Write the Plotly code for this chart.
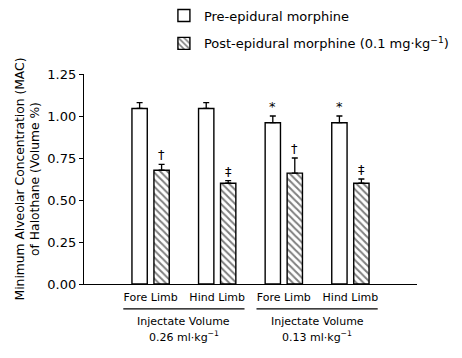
import plotly.graph_objects as go

categories = ["Fore Limb", "Hind Limb", "Fore Limb", "Hind Limb"]
pre_values = [1.045, 1.045, 0.96, 0.96]
pre_errors = [0.035, 0.035, 0.04, 0.04]
post_values = [0.677, 0.60, 0.66, 0.60]
post_errors = [0.035, 0.015, 0.09, 0.025]
pre_marks = ["", "", "*", "*"]
post_marks = ["†", "‡", "†", "‡"]
y_ticks = [0.0, 0.25, 0.5, 0.75, 1.0, 1.25]
group_title = ["Injectate Volume", "Injectate Volume"]
group_doses = ["0.26 ml·kg<sup>−1</sup>", "0.13 ml·kg<sup>−1</sup>"]
group_centers = [0.5, 2.5]

FONT = "DejaVu Sans"
pos = list(range(len(categories)))
off = 0.165
bw = 0.23

fig = go.Figure()
fig.add_trace(go.Bar(
    x=[p - off for p in pos], y=pre_values, width=bw,
    name="Pre-epidural morphine", legendgroup="a",
    marker=dict(color="white", line=dict(color="black", width=1.4)),
    error_y=dict(type="data", array=pre_errors, arrayminus=[0]*4, symmetric=False,
                 color="black", thickness=1.3, width=3),
))
fig.add_trace(go.Bar(
    x=[p + off for p in pos], y=post_values, width=bw,
    name="Post-epidural morphine (0.1 mg·kg<sup>−1</sup>)", legendgroup="b",
    marker=dict(color="white", line=dict(color="black", width=1.4),
                pattern=dict(shape="\\", fgcolor="black", bgcolor="white", size=5, solidity=0.4)),
    error_y=dict(type="data", array=post_errors, arrayminus=[0]*4, symmetric=False,
                 color="black", thickness=1.3, width=3),
))

for p, v, e, m in zip(pos, pre_values, pre_errors, pre_marks):
    if m:
        fig.add_annotation(x=p - off, y=v + e, text=m, showarrow=False, yanchor="bottom",
                           yshift=0, font=dict(family=FONT, size=13, color="black"))
for p, v, e, m in zip(pos, post_values, post_errors, post_marks):
    if m:
        fig.add_annotation(x=p + off, y=v + e, text=m, showarrow=False, yanchor="bottom",
                           yshift=0, font=dict(family=FONT, size=13, color="black"))

for gc, gt, gd in zip(group_centers, group_title, group_doses):
    fig.add_shape(type="line", xref="x", yref="paper", x0=gc - 0.91, x1=gc + 0.91,
                  y0=-0.118, y1=-0.118, line=dict(color="black", width=1.3))
    fig.add_annotation(xref="x", yref="paper", x=gc, y=-0.178, yanchor="middle",
                       text=gt, showarrow=False,
                       font=dict(family=FONT, size=11, color="black"))
    fig.add_annotation(xref="x", yref="paper", x=gc, y=-0.25, yanchor="middle",
                       text=gd, showarrow=False,
                       font=dict(family=FONT, size=11, color="black"))

fig.update_layout(
    width=454, height=350,
    margin=dict(l=76, r=45, t=66, b=74, autoexpand=False),
    plot_bgcolor="white", paper_bgcolor="white",
    font=dict(family=FONT, size=11, color="black"),
    showlegend=True,
    legend=dict(x=0.24, y=1.35, xanchor="left", yanchor="top",
                tracegroupgap=8, font=dict(family=FONT, size=13),
                bgcolor="rgba(0,0,0,0)"),
    xaxis=dict(range=[-1, 4], tickmode="array", tickvals=pos, ticktext=categories,
               showline=True, linecolor="black", linewidth=1.3, ticks="",
               ticklabelstandoff=3,
               showgrid=False, zeroline=False, tickfont=dict(size=11)),
    yaxis=dict(range=[0, 1.25], tickmode="array", tickvals=y_ticks,
               ticktext=[f"{t:.2f}" for t in y_ticks],
               showline=True, linecolor="black", linewidth=1.3, ticks="outside",
               ticklen=4, tickcolor="black", showgrid=False, zeroline=False,
               tickfont=dict(size=13),
               title=dict(text="Minimum Alveolar Concentration (MAC)<br>of Halothane (Volume %)",
                          font=dict(size=12.3), standoff=4)),
)

fig.write_html("out.html")
